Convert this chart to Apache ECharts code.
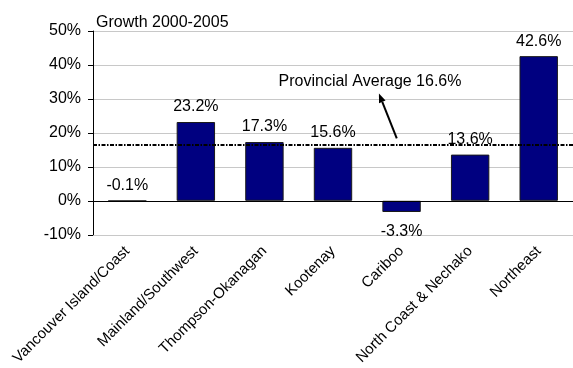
<!DOCTYPE html>
<html>
<head>
<meta charset="utf-8">
<script src="https://cdn.jsdelivr.net/npm/echarts@6/dist/echarts.min.js"></script>
<style>
  html, body { margin: 0; padding: 0; background: #fff; }
  #chart { width: 573px; height: 368px; }
</style>
</head>
<body>
<div id="chart"></div>
<script>
// Regional growth, 2000-2005
const regions = [
  'Vancouver Island/Coast', 'Mainland/Southwest', 'Thompson-Okanagan',
  'Kootenay', 'Cariboo', 'North Coast & Nechako', 'Northeast'
];
const growth = [-0.1, 23.2, 17.3, 15.6, -3.3, 13.6, 42.6];
const provincialAverage = 16.6;
const yTicks = { min: -10, max: 50, step: 10 };
const chartTitle = 'Growth 2000-2005';
const averageText = 'Provincial Average 16.6%';

const FONT = '"Liberation Sans", Arial, sans-serif';

const chart = echarts.init(document.getElementById('chart'), null, { renderer: 'canvas' });

const barData = growth.map((v, i) => ({
  value: v,
  label: { position: (i === 4) ? 'bottom' : 'top', distance: (i === 4) ? 12 : 7 }
}));

chart.setOption({
  animation: false,
  backgroundColor: '#ffffff',
  title: {
    text: chartTitle,
    left: 91, top: 10,
    textStyle: { fontFamily: FONT, fontSize: 16, fontWeight: 'normal', color: '#000' }
  },
  grid: { left: 93, right: 0, top: 31, bottom: 133, containLabel: false },
  xAxis: {
    type: 'category',
    data: regions,
    axisLine: { show: false, onZero: false },
    axisTick: { show: false },
    axisLabel: {
      rotate: 45, interval: 0, margin: 14,
      fontFamily: FONT, fontSize: 15, color: '#000'
    },
    splitLine: { show: false }
  },
  yAxis: {
    type: 'value',
    min: yTicks.min, max: yTicks.max, interval: yTicks.step,
    axisLine: { show: true, lineStyle: { color: '#000', width: 1 } },
    axisTick: { show: true, length: 5, lineStyle: { color: '#000' } },
    axisLabel: {
      formatter: '{value}%', margin: 12,
      fontFamily: FONT, fontSize: 16, color: '#000'
    },
    splitLine: { show: true, lineStyle: { color: '#c8c8c8', width: 1 } }
  },
  series: [{
    type: 'bar',
    data: barData,
    barWidth: '56%',
    itemStyle: { color: '#000080', borderColor: '#1a1a1a', borderWidth: 1 },
    label: {
      show: true,
      formatter: p => p.value.toFixed(1) + '%',
      fontFamily: FONT, fontSize: 16, color: '#000'
    },
    markLine: {
      silent: true,
      symbol: 'none',
      label: { show: false },
      data: [
        { yAxis: 0, lineStyle: { color: '#000', type: 'solid', width: 1.2 } },
        { yAxis: provincialAverage, lineStyle: { color: '#000', type: [4, 1.5, 1.5, 1.5], width: 2 } }
      ]
    }
  }]
});

// Annotation for the provincial average: a caption with an arrow pointing up to it.
function catX(pos) {
  const i = Math.floor(pos), f = pos - i;
  const a = chart.convertToPixel({ xAxisIndex: 0 }, i);
  const b = chart.convertToPixel({ xAxisIndex: 0 }, i + 1);
  return a + (b - a) * f;
}
function valY(v) { return chart.convertToPixel({ yAxisIndex: 0 }, v); }

const tail = [catX(3.93), valY(18.4)];
const head = [catX(3.67), valY(31.6)];
const ang = Math.atan2(head[1] - tail[1], head[0] - tail[0]);
const L = 9, W = 3.5;
const base = [head[0] - L * Math.cos(ang), head[1] - L * Math.sin(ang)];
const px = -Math.sin(ang), py = Math.cos(ang);

chart.setOption({
  graphic: [
    {
      type: 'text',
      x: catX(3.54), y: valY(35.1),
      style: {
        text: averageText, fontFamily: FONT, fontSize: 16, fill: '#000',
        align: 'center', verticalAlign: 'middle'
      },
      z: 10
    },
    {
      type: 'line',
      shape: { x1: tail[0], y1: tail[1], x2: base[0], y2: base[1] },
      style: { stroke: '#000', lineWidth: 2 },
      z: 10
    },
    {
      type: 'polygon',
      shape: { points: [head, [base[0] + px * W, base[1] + py * W], [base[0] - px * W, base[1] - py * W]] },
      style: { fill: '#000' },
      z: 10
    }
  ]
});
</script>
</body>
</html>
